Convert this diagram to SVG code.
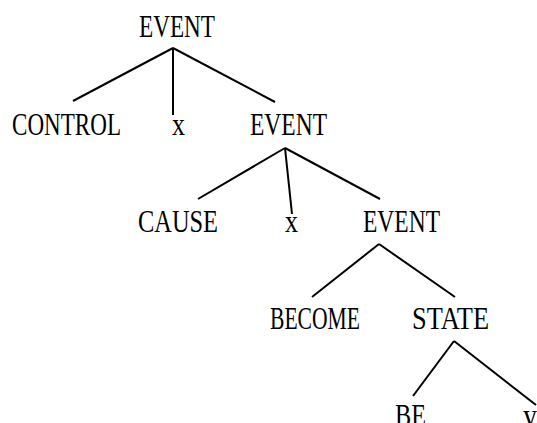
<svg xmlns="http://www.w3.org/2000/svg" width="537" height="423" viewBox="0 0 537 423">
<style>
text{font-family:"Liberation Serif","DejaVu Serif",serif;font-size:31px;fill:#000}
.e line{stroke:#000;stroke-width:2;stroke-linecap:butt}
</style>
<rect width="537" height="423" fill="#fff"/>
<g id="connectors" class="e">
<line x1="173" y1="48" x2="73" y2="101"/>
<line x1="173" y1="48" x2="173" y2="115"/>
<line x1="173" y1="48" x2="275" y2="102"/>
<line x1="285" y1="148" x2="198" y2="199"/>
<line x1="285" y1="148" x2="292" y2="214"/>
<line x1="285" y1="148" x2="380" y2="199"/>
<line x1="379" y1="244" x2="312" y2="297"/>
<line x1="379" y1="244" x2="455" y2="297"/>
<line x1="454" y1="341" x2="413" y2="396"/>
<line x1="454" y1="341" x2="536" y2="405"/>
</g>
<g id="event1"><text x="139" y="37" textLength="76" lengthAdjust="spacingAndGlyphs">EVENT</text></g>
<g id="control"><text x="12" y="135" textLength="109" lengthAdjust="spacingAndGlyphs">CONTROL</text></g>
<g id="x1"><text x="172" y="135" textLength="13" lengthAdjust="spacingAndGlyphs">x</text></g>
<g id="event2"><text x="250" y="135" textLength="77" lengthAdjust="spacingAndGlyphs">EVENT</text></g>
<g id="cause"><text x="138" y="232" textLength="80" lengthAdjust="spacingAndGlyphs">CAUSE</text></g>
<g id="x2"><text x="285" y="232" textLength="13" lengthAdjust="spacingAndGlyphs">x</text></g>
<g id="event3"><text x="363" y="232" textLength="77" lengthAdjust="spacingAndGlyphs">EVENT</text></g>
<g id="become"><text x="270" y="329" textLength="90" lengthAdjust="spacingAndGlyphs">BECOME</text></g>
<g id="state"><text x="412" y="329" textLength="77" lengthAdjust="spacingAndGlyphs">STATE</text></g>
<g id="be"><text x="395" y="426" textLength="31" lengthAdjust="spacingAndGlyphs">BE</text></g>
<g id="y"><text x="523" y="426" textLength="14" lengthAdjust="spacingAndGlyphs">y</text></g>
</svg>
